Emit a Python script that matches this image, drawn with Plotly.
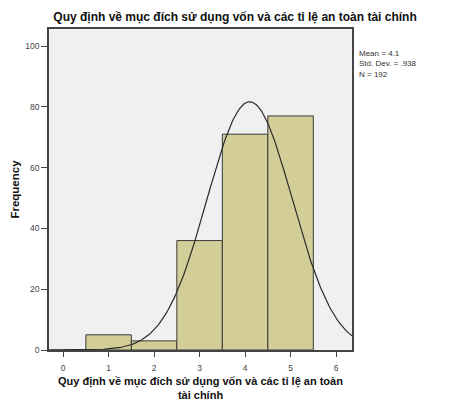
import numpy as np
import plotly.graph_objects as go

# Histogram data
bin_centers = [1, 2, 3, 4, 5]
frequencies = [5, 3, 36, 71, 77]

# Stats printed next to the chart (used for SPSS normal curve)
mean_val = 4.1
std_dev = 0.938
n_total = 192

title_text = 'Quy định về mục đích sử dụng vốn và các tỉ lệ an toàn tài chính'
x_title = 'Quy định về mục đích sử dụng vốn và các tỉ lệ an toàn<br>tài chính'

# fitted normal curve, scaled to counts (bin width 1)
x_curve = np.linspace(-0.4, 6.4, 300)
y_curve = n_total / (std_dev * np.sqrt(2 * np.pi)) * np.exp(-0.5 * ((x_curve - mean_val) / std_dev) ** 2)

bars = go.Bar(
    x=bin_centers,
    y=frequencies,
    width=1,
    marker=dict(color='#d3ce97', line=dict(color='#3a3a3a', width=1)),
    hoverinfo='x+y',
)

curve = go.Scatter(
    x=x_curve,
    y=y_curve,
    mode='lines',
    line=dict(color='#2b2b2b', width=1.2),
    hoverinfo='skip',
)

fig = go.Figure(data=[bars, curve])

# page body adds 8px, margins compensate for it
fig.update_layout(
    width=470,
    height=411,
    showlegend=False,
    paper_bgcolor='white',
    plot_bgcolor='#f0f0f0',
    margin=dict(l=41, r=126, t=21, b=69, autoexpand=False),
    font=dict(family='Liberation Sans, Arial, sans-serif', color='#333333'),
    title=dict(text='<b>' + title_text + '</b>', x=0.483, xanchor='center',
               y=0.978, yanchor='middle', font=dict(size=12, color='#111111')),
)

fig.update_xaxes(
    range=[-0.31, 6.35],
    tickvals=[0, 1, 2, 3, 4, 5, 6],
    ticks='outside', ticklen=5, tickcolor='#444444', ticklabelstandoff=4,
    tickfont=dict(size=8.5, color='#444444'),
    showgrid=False, zeroline=False, automargin=False,
    showline=True, linecolor='#444444', linewidth=1.5, mirror=True,
    title=dict(text='<b>' + x_title + '</b>', font=dict(size=11, color='#111111'), standoff=5),
)

fig.update_yaxes(
    range=[0, 105.6],
    tickvals=[0, 20, 40, 60, 80, 100],
    ticks='outside', ticklen=6, tickcolor='#444444',
    tickfont=dict(size=8.5, color='#444444'),
    showgrid=False, zeroline=False, automargin=False,
    showline=True, linecolor='#444444', linewidth=1.5, mirror=True,
    title=dict(text='<b>Frequency</b>', font=dict(size=11.5, color='#111111'), standoff=3),
)

fig.add_annotation(
    xref='paper', yref='paper', x=1.017, y=0.943, xanchor='left', yanchor='top',
    text='Mean = 4.1<br>Std. Dev. = .938<br>N = 192',
    showarrow=False, align='left',
    font=dict(size=8, color='#333333'),
)

fig.write_html('out.html')
